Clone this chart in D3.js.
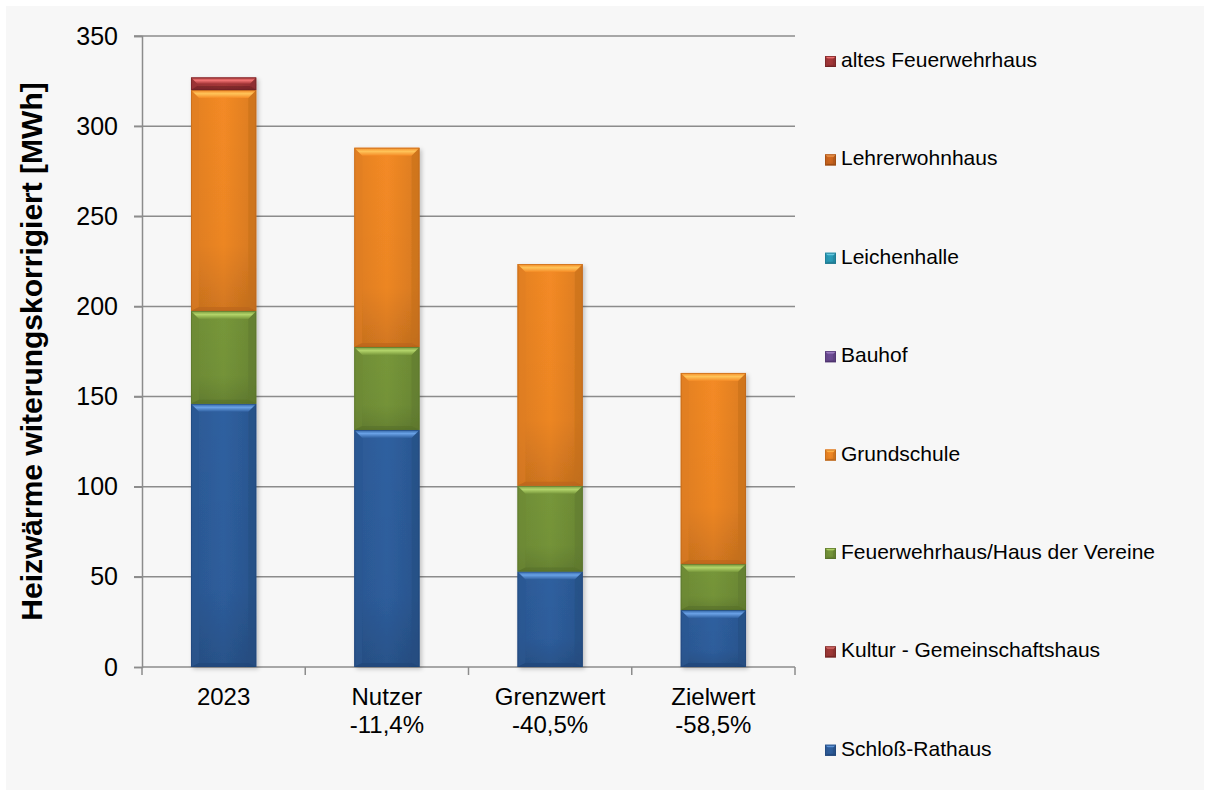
<!DOCTYPE html>
<html>
<head>
<meta charset="utf-8">
<script src="https://cdn.jsdelivr.net/npm/d3@7/dist/d3.min.js"></script>
<style>
  html, body { margin: 0; padding: 0; background: #ffffff; }
  svg { display: block; font-family: "Liberation Sans", Arial, sans-serif; }
</style>
</head>
<body>
<svg id="chart" width="1210" height="796"></svg>
<script>
// Categories (two-line axis labels)
const categories = ["2023", "Nutzer", "Grenzwert", "Zielwert"];
const categorySub = ["", "-11,4%", "-40,5%", "-58,5%"];

// Heating energy per building, MWh (weather-corrected), stacked bottom to top
const schlossRathaus       = [146, 131.5, 53, 31.6];
const kulturGemeinschaft   = [0, 0, 0, 0];
const feuerwehrhausVereine = [51.5, 46, 47.5, 25.5];
const grundschule          = [122.5, 110.5, 123, 106];
const bauhof               = [0, 0, 0, 0];
const leichenhalle         = [0, 0, 0, 0];
const lehrerwohnhaus       = [0, 0, 0, 0];
const altesFeuerwehrhaus   = [7, 0, 0, 0];

const seriesNames = ["Schloß-Rathaus", "Kultur - Gemeinschaftshaus", "Feuerwehrhaus/Haus der Vereine",
  "Grundschule", "Bauhof", "Leichenhalle", "Lehrerwohnhaus", "altes Feuerwehrhaus"];
const seriesValues = [schlossRathaus, kulturGemeinschaft, feuerwehrhausVereine, grundschule,
  bauhof, leichenhalle, lehrerwohnhaus, altesFeuerwehrhaus];

const yTicks = [0, 50, 100, 150, 200, 250, 300, 350];
const yTitle = "Heizwärme witerungskorrigiert [MWh]";

// Colour sets per series: base, light (top bevel), dark (bottom/side)
const palette = [
  { base: "#2f60a0", light: "#6aa2e6", dark: "#1f4476" },
  { base: "#a33a38", light: "#e87c7a", dark: "#6e2220" },
  { base: "#77973a", light: "#b3d46a", dark: "#56702a" },
  { base: "#f48a25", light: "#ffc45a", dark: "#b8631a" },
  { base: "#6e4d97", light: "#a888cc", dark: "#4b3269" },
  { base: "#2aa0bd", light: "#78d2e8", dark: "#1b7288" },
  { base: "#d3691f", light: "#f4a25a", dark: "#96470f" },
  { base: "#a8383a", light: "#f27474", dark: "#6a2022" }
];

const svg = d3.select("#chart");
const W = 1210, H = 796;

// Chart area background
svg.append("rect").attr("x", 6).attr("y", 6).attr("width", W - 12).attr("height", H - 12)
  .attr("fill", "#f7f7f7");

const defs = svg.append("defs");
const shadow = defs.append("filter").attr("id", "shadow")
  .attr("x", "-20%").attr("y", "-20%").attr("width", "150%").attr("height", "150%");
shadow.append("feDropShadow").attr("dx", 2).attr("dy", 2).attr("stdDeviation", 2)
  .attr("flood-color", "#000").attr("flood-opacity", 0.22);

palette.forEach((p, i) => {
  const gTop = defs.append("linearGradient").attr("id", "top" + i)
    .attr("x1", 0).attr("y1", 0).attr("x2", 0).attr("y2", 1);
  gTop.append("stop").attr("offset", "0%").attr("stop-color", p.base);
  gTop.append("stop").attr("offset", "45%").attr("stop-color", p.light);
  gTop.append("stop").attr("offset", "100%").attr("stop-color", p.base);
  const gBody = defs.append("linearGradient").attr("id", "body" + i)
    .attr("x1", 0).attr("y1", 0).attr("x2", 1).attr("y2", 0);
  gBody.append("stop").attr("offset", "0%").attr("stop-color", d3.color(p.base).darker(0.2));
  gBody.append("stop").attr("offset", "50%").attr("stop-color", p.base);
  gBody.append("stop").attr("offset", "100%").attr("stop-color", d3.color(p.base).darker(0.3));
});
// Soft vertical shading that darkens the lower part of a segment
const shade = defs.append("linearGradient").attr("id", "shade")
  .attr("x1", 0).attr("y1", 0).attr("x2", 0).attr("y2", 1);
shade.append("stop").attr("offset", "0%").attr("stop-color", "#000").attr("stop-opacity", 0);
shade.append("stop").attr("offset", "70%").attr("stop-color", "#000").attr("stop-opacity", 0.03);
shade.append("stop").attr("offset", "100%").attr("stop-color", "#000").attr("stop-opacity", 0.14);

const margin = { left: 142, right: 415, top: 36, bottom: 129 };
const plotW = W - margin.left - margin.right;
const plotH = H - margin.top - margin.bottom;

const x = d3.scaleBand().domain(categories).range([margin.left, margin.left + plotW])
  .paddingInner(0.6).paddingOuter(0.3);
const y = d3.scaleLinear().domain([0, 350]).range([margin.top + plotH, margin.top]);

// Gridlines
svg.append("g").selectAll("line").data(yTicks.filter(t => t > 0)).join("line")
  .attr("x1", margin.left - 8).attr("x2", margin.left + plotW)
  .attr("y1", d => y(d)).attr("y2", d => y(d))
  .attr("stroke", "#8c8c8c").attr("stroke-width", 1.5);

// Y axis
const yAxis = svg.append("g").attr("transform", `translate(${margin.left},0)`)
  .call(d3.axisLeft(y).tickValues(yTicks).tickSize(8).tickPadding(16));
yAxis.select(".domain").attr("stroke", "#8c8c8c").attr("stroke-width", 1.5);
yAxis.selectAll(".tick line").attr("stroke", "#8c8c8c").attr("stroke-width", 1.5);
yAxis.selectAll(".tick text").attr("font-size", 25).attr("fill", "#000")
  .attr("font-family", "Liberation Sans, Arial, sans-serif");

// X axis (line + ticks at category boundaries)
const bounds = d3.range(categories.length + 1).map(i => margin.left + i * plotW / categories.length);
svg.append("line").attr("x1", margin.left).attr("x2", margin.left + plotW)
  .attr("y1", y(0)).attr("y2", y(0)).attr("stroke", "#8c8c8c").attr("stroke-width", 1.5);
svg.append("g").selectAll("line").data(bounds).join("line")
  .attr("x1", d => d).attr("x2", d => d).attr("y1", y(0)).attr("y2", y(0) + 8)
  .attr("stroke", "#8c8c8c").attr("stroke-width", 1.5);

const xLabels = svg.append("g").selectAll("text").data(categories).join("text")
  .attr("x", d => x(d) + x.bandwidth() / 2).attr("y", y(0) + 38)
  .attr("text-anchor", "middle").attr("font-size", 24).attr("fill", "#000");
xLabels.append("tspan").attr("x", d => x(d) + x.bandwidth() / 2).text(d => d);
xLabels.append("tspan").attr("x", d => x(d) + x.bandwidth() / 2).attr("dy", 28)
  .text((d, i) => categorySub[i]);

// Y title
svg.append("text")
  .attr("transform", `translate(42,${y(175)}) rotate(-90)`)
  .attr("text-anchor", "middle").attr("font-size", 30).attr("font-weight", "bold")
  .attr("fill", "#000").text(yTitle);

// Stacked data
const stackData = categories.map((c, ci) => {
  const o = { cat: c };
  seriesNames.forEach((s, si) => { o[s] = seriesValues[si][ci]; });
  return o;
});
const stacked = d3.stack().keys(seriesNames)(stackData);

// Bevelled segment
function drawSegment(g, x0, y0, w, h, i, bMax) {
  const p = palette[i];
  const b = Math.min(bMax, h / 2, w / 2);
  const bb = Math.min(bMax * 0.5, h / 3);
  g.append("rect").attr("x", x0).attr("y", y0).attr("width", w).attr("height", h)
    .attr("fill", `url(#body${i})`);
  g.append("rect").attr("x", x0).attr("y", y0).attr("width", w).attr("height", h)
    .attr("fill", "url(#shade)");
  // left bevel
  g.append("polygon")
    .attr("points", [[x0, y0], [x0 + b, y0 + b], [x0 + b, y0 + h - bb], [x0, y0 + h]].join(" "))
    .attr("fill", d3.color(p.base).darker(0.25)).attr("opacity", 0.5);
  // right bevel
  g.append("polygon")
    .attr("points", [[x0 + w, y0], [x0 + w - b, y0 + b], [x0 + w - b, y0 + h - bb], [x0 + w, y0 + h]].join(" "))
    .attr("fill", d3.color(p.base).darker(0.6)).attr("opacity", 0.55);
  // bottom bevel
  g.append("polygon")
    .attr("points", [[x0, y0 + h], [x0 + w, y0 + h], [x0 + w - b, y0 + h - bb], [x0 + b, y0 + h - bb]].join(" "))
    .attr("fill", p.dark).attr("opacity", 0.55);
  // top bevel
  g.append("polygon")
    .attr("points", [[x0, y0], [x0 + w, y0], [x0 + w - b, y0 + b], [x0 + b, y0 + b]].join(" "))
    .attr("fill", `url(#top${i})`);
  g.append("rect").attr("x", x0 + 0.5).attr("y", y0 + 0.5).attr("width", w - 1).attr("height", h - 1)
    .attr("fill", "none").attr("stroke", p.dark).attr("stroke-opacity", 0.55).attr("stroke-width", 1);
}

const barsG = svg.append("g").attr("filter", "url(#shadow)");
stacked.forEach((layer, si) => {
  layer.forEach((d, ci) => {
    const v = d[1] - d[0];
    if (v <= 0) return;
    const x0 = x(categories[ci]);
    const yTop = y(d[1]);
    const h = y(d[0]) - yTop;
    drawSegment(barsG.append("g"), x0, yTop, x.bandwidth(), h, si, 8);
  });
});

// Legend (top entry = last series)
const legendOrder = seriesNames.map((s, i) => i).reverse();
const legend = svg.append("g");
legendOrder.forEach((si, k) => {
  const ly = 56 + k * 98.4;
  const g = legend.append("g");
  drawSegment(g, 825, ly, 11, 11, si, 3);
  g.append("text").attr("x", 841).attr("y", ly + 11).attr("font-size", 21).attr("fill", "#000")
    .text(seriesNames[si]);
});
</script>
</body>
</html>
